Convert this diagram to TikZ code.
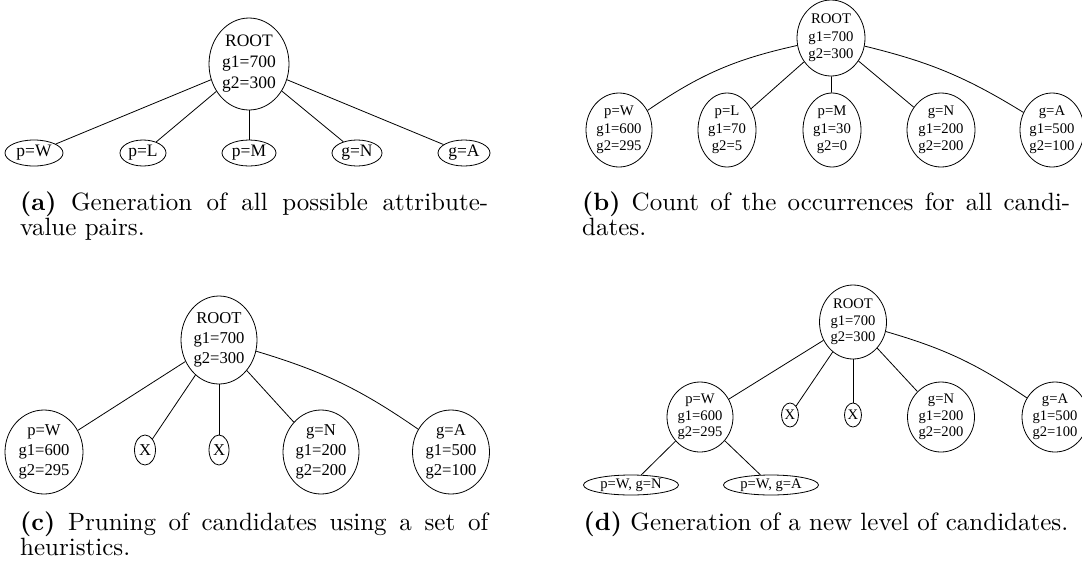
\documentclass[tikz,border=0pt]{standalone}
\usepackage{fontspec}
\usetikzlibrary{shapes.geometric}
\newfontfamily\treefont{Liberation Serif}
\tikzset{
  tn/.style={draw, ellipse, inner sep=0pt, align=center, line width=0.8pt},
  sz/.style 2 args={minimum width=#1pt, minimum height=#2pt},
  fa/.style={font=\treefont\fontsize{17.5}{21}\selectfont},
  fb/.style={font=\treefont\fontsize{14.7}{17.5}\selectfont},
  fc/.style={font=\treefont\fontsize{16.6}{20}\selectfont},
  fd/.style={font=\treefont\fontsize{14.6}{16.7}\selectfont},
  ed/.style={line width=0.8pt},
  captext/.style={inner sep=0pt, anchor=base west},
}
% a caption line, drawn at 10pt and enlarged; optional full-width spreading
\newcommand{\capline}[2]{\scalebox{2.5}{\makebox[#1][s]{#2}}}
\newcommand{\capnat}[1]{\scalebox{2.5}{#1}}
\begin{document}
\begin{tikzpicture}[x=1pt, y=-1pt]
\useasboundingbox (0,0) rectangle (1082,574);

% (a) candidate generation
\begin{scope}[every node/.append style={fa}]
\node[tn, sz={80}{92}] (ra) at (249,64) {ROOT\\g1=700\\g2=300};
\node[tn, sz={58}{26}] (aw) at (34,153) {p=W};
\node[tn, sz={46}{26}] (al) at (143,153) {p=L};
\node[tn, sz={54}{26}] (am) at (249,153) {p=M};
\node[tn, sz={50}{26}] (an) at (357,153) {g=N};
\node[tn, sz={52}{26}] (aa) at (464,153) {g=A};
\end{scope}
\draw[ed] (ra) -- (aw);
\draw[ed] (ra) -- (al);
\draw[ed] (ra) -- (am);
\draw[ed] (ra) -- (an);
\draw[ed] (ra) -- (aa);

% (b) occurrence counts
\begin{scope}[every node/.append style={fb}]
\node[tn, sz={68}{76}] (rb) at (831,38) {ROOT\\g1=700\\g2=300};
\node[tn, sz={66}{74}] (bw) at (619,130) {p=W\\g1=600\\g2=295};
\node[tn, sz={58}{74}] (bl) at (727,130) {p=L\\g1=70\\g2=5};
\node[tn, sz={58}{74}] (bm) at (832,130) {p=M\\g1=30\\g2=0};
\node[tn, sz={68}{74}] (bn) at (941,130) {g=N\\g1=200\\g2=200};
\node[tn, sz={64}{74}] (ba) at (1052,130) {g=A\\g1=500\\g2=100};
\end{scope}
\draw[ed] (rb) to[bend right=11] (bw);
\draw[ed] (rb) -- (bl);
\draw[ed] (rb) -- (bm);
\draw[ed] (rb) -- (bn);
\draw[ed] (rb) to[bend left=9] (ba);

% (c) pruning
\begin{scope}[every node/.append style={fc}]
\node[tn, sz={76}{88}] (rc) at (219,340) {ROOT\\g1=700\\g2=300};
\node[tn, sz={78}{84}] (cw) at (44,452) {p=W\\g1=600\\g2=295};
\node[tn, sz={21}{30}] (cx1) at (145,450) {X};
\node[tn, sz={20}{30}] (cx2) at (219,450) {X};
\node[tn, sz={76}{84}] (cn) at (321,452) {g=N\\g1=200\\g2=200};
\node[tn, sz={77}{84}] (ca) at (451,452) {g=A\\g1=500\\g2=100};
\end{scope}
\draw[ed] (rc) -- (cw);
\draw[ed] (rc) -- (cx1);
\draw[ed] (rc) -- (cx2);
\draw[ed] (rc) -- (cn);
\draw[ed] (rc) to[bend left=9] (ca);

% (d) next level
\begin{scope}[every node/.append style={fd}]
\node[tn, sz={67}{74}] (rd) at (853,322) {ROOT\\g1=700\\g2=300};
\node[tn, sz={66}{70}] (dw) at (700,417) {p=W\\g1=600\\g2=295};
\node[tn, sz={17}{24}] (dx1) at (790,415) {X};
\node[tn, sz={17}{24}] (dx2) at (853,415) {X};
\node[tn, sz={67}{70}] (dn) at (941,417) {g=N\\g1=200\\g2=200};
\node[tn, sz={66}{70}] (da) at (1055,417) {g=A\\g1=500\\g2=100};
\node[tn, sz={95}{20}] (dwn) at (631,485) {p=W, g=N};
\node[tn, sz={95}{20}] (dwa) at (771,485) {p=W, g=A};
\end{scope}
\draw[ed] (rd) -- (dw);
\draw[ed] (rd) -- (dx1);
\draw[ed] (rd) -- (dx2);
\draw[ed] (rd) -- (dn);
\draw[ed] (rd) to[bend left=9] (da);
\draw[ed] (dw) -- (dwn);
\draw[ed] (dw) -- (dwa);

% captions
\node[captext] (capa1) at (20,210) {\capline{187.2pt}{\textbf{(a)} Generation of all possible attribute-}};
\node[captext] (capa2) at (20,235) {\capnat{value pairs.}};
\node[captext] (capb1) at (582,210) {\capline{195.2pt}{\textbf{(b)} Count of the occurrences for all candi-}};
\node[captext] (capb2) at (582,235) {\capnat{dates.}};
\node[captext] (capc1) at (20,530) {\capline{187.2pt}{\textbf{(c)} Pruning of candidates using a set of}};
\node[captext] (capc2) at (20,555) {\capnat{heuristics.}};
\node[inner sep=0pt, anchor=base] (capd) at (826,530) {\capnat{\textbf{(d)} Generation of a new level of candidates.}};
\end{tikzpicture}
\end{document}
